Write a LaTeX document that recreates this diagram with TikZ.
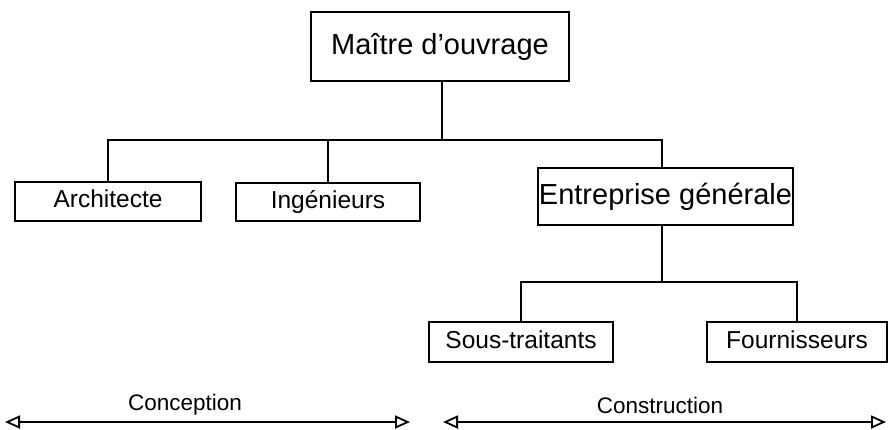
\documentclass[tikz,border=0pt]{standalone}
\usepackage{fontspec}
\setmainfont{Liberation Sans}
\usetikzlibrary{arrows.meta}
\begin{document}
\begin{tikzpicture}[x=1pt,y=-1pt,
  box/.style={draw,line width=1.8pt,inner sep=0pt,anchor=center},
  big/.style={box,font=\fontsize{29}{33}\selectfont,text height=21pt,text depth=6pt},
  small/.style={box,font=\fontsize{24.5}{28}\selectfont,text height=17.5pt,text depth=5pt},
  link/.style={line width=1.3pt},
  phase/.style={line width=1.6pt,
    arrows={Triangle[open,length=15pt,width=13pt,line width=1.8pt]-Triangle[open,length=15pt,width=13pt,line width=1.8pt]}},
  phaselabel/.style={font=\fontsize{22.5}{26}\selectfont,inner sep=0pt}]
\useasboundingbox (0,0) rectangle (889,429);

% organisation chart
\node[big,minimum width=258pt,minimum height=69pt] (mo) at (440,46.5) {Maître d'ouvrage};
\node[small,minimum width=186pt,minimum height=39pt] (arch) at (108,201.5) {Architecte};
\node[small,minimum width=184pt,minimum height=38pt] (ing) at (328,202) {Ingénieurs};
\node[big,minimum width=255pt,minimum height=57pt] (ent) at (665.5,196.5) {Entreprise générale};
\node[small,minimum width=184pt,minimum height=40pt] (sous) at (521,342) {Sous-traitants};
\node[small,minimum width=180pt,minimum height=40pt] (four) at (797,342) {Fournisseurs};

% junctions of the two connector bars
\coordinate (j1) at (442,140);
\coordinate (e1) at (662,140);
\coordinate (j2) at (662,282);

\draw[link] (mo.south -| j1) -- (j1);
\draw[link] (arch.north) |- (e1) -- (e1 |- ent.north);
\draw[link] (ing.north) -- (ing.north |- j1);
\draw[link] (ent.south -| j2) -- (j2);
\draw[link] (sous.north) |- (j2) -| (four.north);

% project phases
\coordinate (c1) at (5,422);
\coordinate (c2) at (410,422);
\coordinate (k1) at (443,422);
\coordinate (k2) at (886,422);
\draw[phase] (c1) -- (c2);
\draw[phase] (k1) -- (k2);
\node[phaselabel] (conc) at (185,405) {Conception};
\node[phaselabel] (cons) at (660,405) {Construction};
\end{tikzpicture}
\end{document}
